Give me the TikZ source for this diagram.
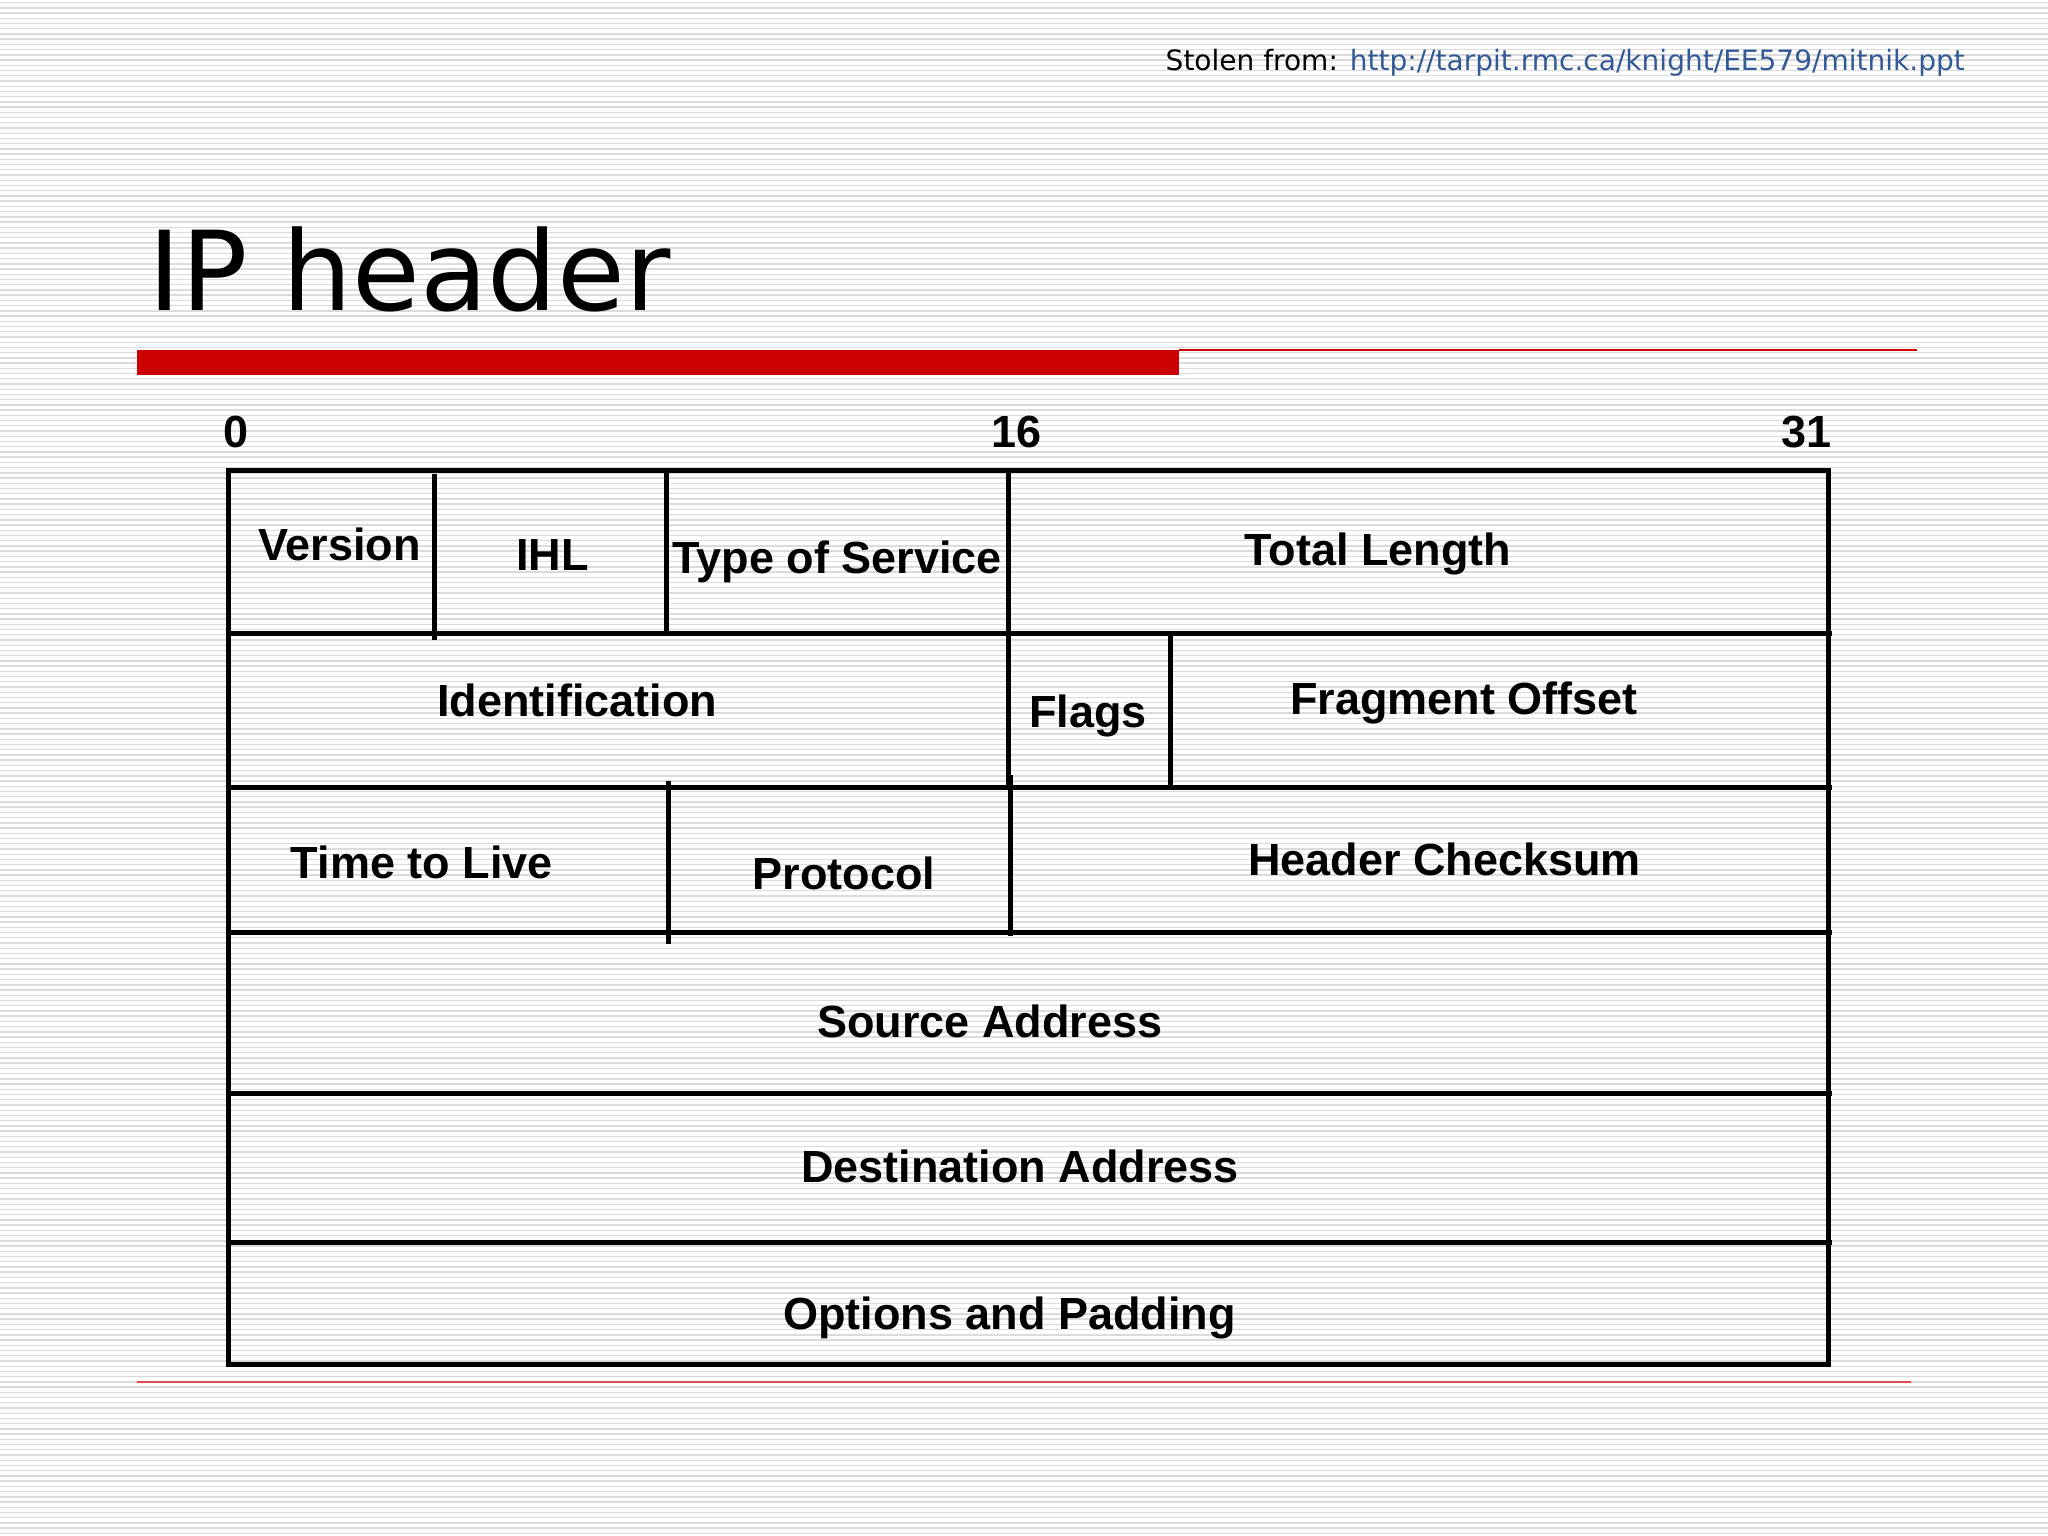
\documentclass[tikz,border=0pt]{standalone}
\usepackage{fontspec}
\setmainfont{Liberation Sans}
\newfontfamily\dejavu{DejaVu Sans}
\definecolor{redbar}{RGB}{204,0,0}
\definecolor{linkblue}{RGB}{50,90,150}
\begin{document}
\begin{tikzpicture}[x=0.01cm,y=-0.01cm,
  lbl/.style={font=\fontsize{9.8pt}{11pt}\selectfont\bfseries,inner sep=0pt,anchor=center},
  frame/.style={line width=1.1pt,black}]
\fill[white] (0,0) rectangle (1568,1176);
\useasboundingbox (0,0) rectangle (1568,1176);
\foreach \y in {2,6,...,1174} \draw[black!14,line width=0.3pt] (0,\y) -- (1568,\y);
% header
\node[anchor=east,inner sep=0pt,font=\dejavu\fontsize{6.1pt}{7pt}\selectfont] (stolen) at (1505,48) {Stolen from: \textcolor{linkblue}{http://tarpit.rmc.ca/knight/EE579/mitnik.ppt}};
\node[anchor=base west,inner sep=0pt,font=\dejavu\fontsize{24pt}{27pt}\selectfont] (title) at (113,238) {IP header};
\fill[redbar] (105,268) rectangle (903,287);
\draw[redbar,line width=0.5pt] (903,268) -- (1468,268);
\draw[redbar!70,line width=0.4pt] (105,1058) -- (1463,1058);
% bit numbers
\node[lbl] (b0) at (181,331) {0};
\node[lbl] (b16) at (778,331) {16};
\node[lbl] (b31) at (1383,331) {31};
% frame
\draw[frame] (175,360) rectangle (1400,1045);
\foreach \y in {485,603,714,837,951} \draw[frame] (175,\y) -- (1403,\y);
\draw[frame] (333,363) -- (333,490);
\draw[frame] (510,360) -- (510,485);
\draw[frame] (772,360) -- (772,603);
\draw[frame] (896,485) -- (896,603);
\draw[frame] (512,598) -- (512,723);
\draw[frame] (774,593) -- (774,717);
% labels
\node[lbl] (ver) at (260,417) {Version};
\node[lbl] (ihl) at (423,425) {IHL};
\node[lbl] (tos) at (641,430) {Type of Service};
\node[lbl] (tl) at (1055,424) {Total Length};
\node[lbl] (id) at (442,536) {Identification};
\node[lbl] (fl) at (833,548) {Flags};
\node[lbl] (fo) at (1121,538) {Fragment Offset};
\node[lbl] (ttl) at (323,660) {Time to Live};
\node[lbl] (pr) at (646,669) {Protocol};
\node[lbl] (hc) at (1106,658) {Header Checksum};
\node[lbl] (sa) at (758,782) {Source Address};
\node[lbl] (da) at (781,893) {Destination Address};
\node[lbl] (op) at (773,1009) {Options and Padding};
\end{tikzpicture}
\end{document}
